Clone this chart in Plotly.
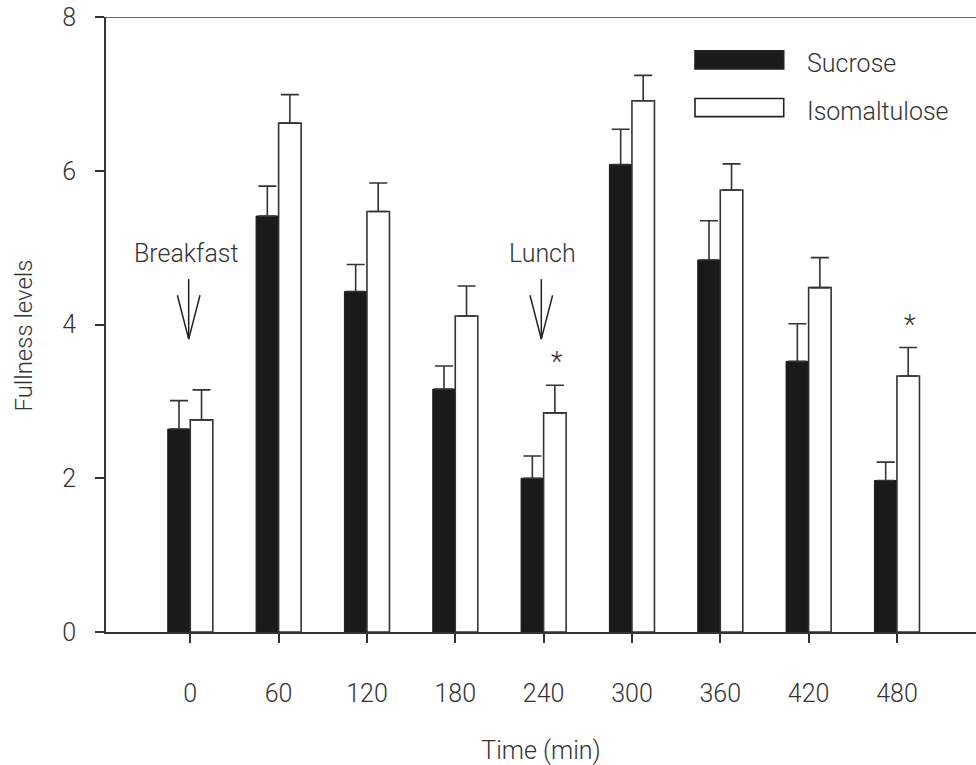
import plotly.graph_objects as go

# ---- data ----
time_labels = ["0", "60", "120", "180", "240", "300", "360", "420", "480"]
sucrose = [2.64, 5.41, 4.43, 3.16, 2.00, 6.08, 4.84, 3.52, 1.97]
sucrose_err = [0.37, 0.39, 0.35, 0.30, 0.29, 0.46, 0.51, 0.49, 0.24]
isomaltulose = [2.76, 6.62, 5.47, 4.11, 2.85, 6.91, 5.75, 4.48, 3.33]
isomaltulose_err = [0.39, 0.37, 0.37, 0.39, 0.36, 0.33, 0.34, 0.39, 0.37]
significant = [False, False, False, False, True, False, False, False, True]

FONT = "Roboto"
FW = 300
FS = 25
TXT = "#333333"
BAR_W = 0.255

x_idx = list(range(len(time_labels)))

def f(size=FS):
    return dict(family=FONT, size=size, color=TXT, weight=FW)

fig = go.Figure()
fig.add_trace(go.Bar(
    x=x_idx, y=sucrose, name="Sucrose", width=BAR_W, offset=-BAR_W,
    marker=dict(color="#1a1a1a", line=dict(color="#1a1a1a", width=1)),
    error_y=dict(type="data", array=sucrose_err, arrayminus=[0]*len(sucrose),
                 symmetric=False, color="#333333", thickness=1.6, width=9),
    showlegend=False,
))
fig.add_trace(go.Bar(
    x=x_idx, y=isomaltulose, name="Isomaltulose", width=BAR_W, offset=0,
    marker=dict(color="white", line=dict(color="#333333", width=1.6)),
    error_y=dict(type="data", array=isomaltulose_err, arrayminus=[0]*len(isomaltulose),
                 symmetric=False, color="#333333", thickness=1.6, width=9),
    showlegend=False,
))

annotations = []
shapes = []

# significance asterisks above isomaltulose bars
for i, sig in enumerate(significant):
    if sig:
        annotations.append(dict(
            x=i + BAR_W / 2 + 0.02, y=isomaltulose[i] + isomaltulose_err[i] + 0.30,
            xref="x", yref="y", text="*", showarrow=False,
            font=f(27), yanchor="middle"))

# meal arrows
meals = [("Breakfast", 0, -0.04, -0.018), ("Lunch", 4, -0.01, -0.026)]
for label, i, tdx, adx in meals:
    ax = i + adx
    annotations.append(dict(x=i + tdx, y=4.93, xref="x", yref="y", text=label,
                            showarrow=False, font=f(), yanchor="middle"))
    top, tip, head = 4.59, 3.81, 4.38
    hw = 0.128
    shapes.append(dict(type="line", xref="x", yref="y", x0=ax, x1=ax, y0=top, y1=tip,
                       line=dict(color="#222222", width=1.5)))
    shapes.append(dict(type="path", xref="x", yref="y",
                       path=f"M {ax-hw},{head} L {ax},{tip} L {ax+hw},{head}",
                       line=dict(color="#222222", width=1.5)))

# top border line
shapes.append(dict(type="line", xref="paper", yref="y", x0=-0.011, x1=1, y0=8, y1=8,
                   line=dict(color="#333333", width=1.6)))

# custom legend (paper coords relative to plot area)
legend_items = [("Sucrose", "#1a1a1a", 0.9302), ("Isomaltulose", "white", 0.8528)]
for name, col, yc in legend_items:
    shapes.append(dict(type="rect", xref="paper", yref="paper",
                       x0=0.677, x1=0.779, y0=yc - 0.0148, y1=yc + 0.0148,
                       fillcolor=col, line=dict(color="#222222", width=1.6)))
    annotations.append(dict(x=0.804, y=yc, xref="paper", yref="paper", text=name,
                            showarrow=False, xanchor="left", yanchor="middle",
                            yshift=-4, font=f()))

# y-axis title
annotations.append(dict(x=0, y=0.482, xref="paper", yref="paper", text="Fullness levels",
                        showarrow=False, textangle=-90, xanchor="center", yanchor="middle",
                        xshift=-82, font=f(24)))

fig.update_layout(
    width=976, height=765,
    margin=dict(l=106, r=0, t=17, b=133),
    plot_bgcolor="white", paper_bgcolor="white",
    barmode="overlay",
    font=f(),
    annotations=annotations, shapes=shapes,
    xaxis=dict(
        range=[-0.954, 8.895], tickmode="array", tickvals=x_idx, ticktext=time_labels,
        showline=True, linecolor="#333333", linewidth=1.6,
        ticks="outside", ticklen=9, tickwidth=1.6, tickcolor="#333333",
        ticklabelstandoff=29, showgrid=False, zeroline=False,
        tickfont=f(),
        title=dict(text="Time (min)", font=f(), standoff=36),
    ),
    yaxis=dict(
        range=[0, 8], tickvals=[0, 2, 4, 6, 8],
        showline=True, linecolor="#333333", linewidth=1.6,
        ticks="outside", ticklen=9, tickwidth=1.6, tickcolor="#333333",
        ticklabelstandoff=14, showgrid=False, zeroline=False,
        tickfont=f(),
    ),
)

fig.write_html("out.html")
